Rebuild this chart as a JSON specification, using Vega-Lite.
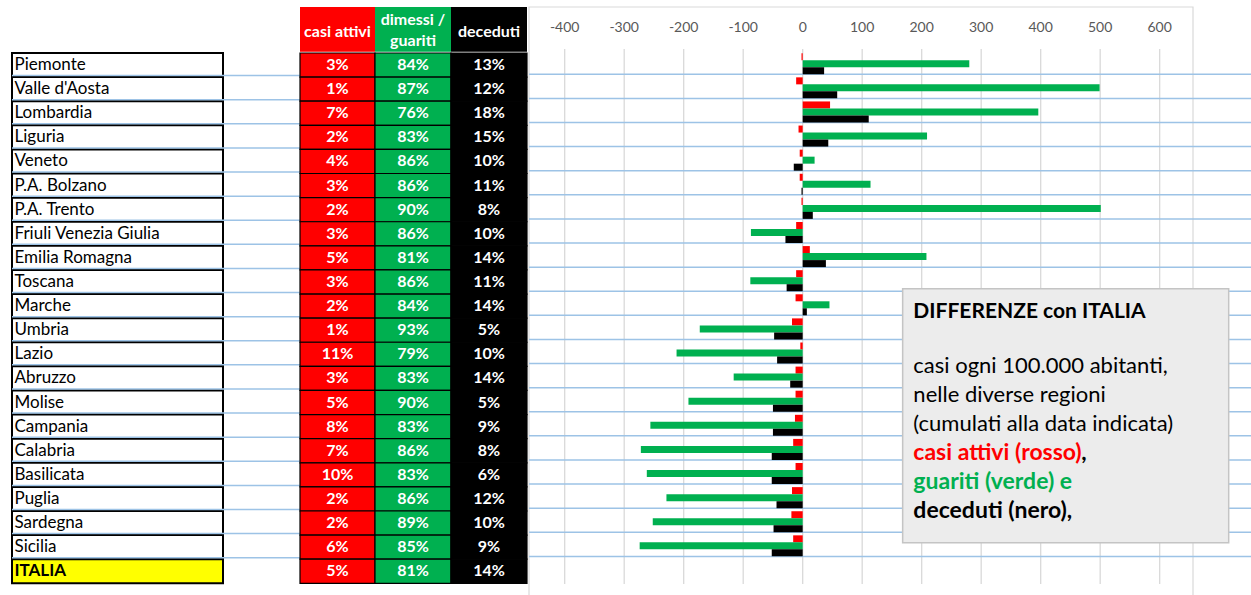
{
  "$schema": "https://vega.github.io/schema/vega-lite/v6.json",
  "padding": {"left": 11, "top": 6, "right": 0, "bottom": 0},
  "background": "white",
  "config": {"view": {"stroke": null}, "font": "Lato"},
  "datasets": {
    "regions": [
      {"region": "Piemonte", "p_att": 0.03, "p_gua": 0.84, "p_dec": 0.13, "d_attivi": -2, "d_guariti": 280, "d_deceduti": 36},
      {"region": "Valle d'Aosta", "p_att": 0.01, "p_gua": 0.87, "p_dec": 0.12, "d_attivi": -11, "d_guariti": 499, "d_deceduti": 58},
      {"region": "Lombardia", "p_att": 0.07, "p_gua": 0.76, "p_dec": 0.18, "d_attivi": 46, "d_guariti": 396, "d_deceduti": 111},
      {"region": "Liguria", "p_att": 0.02, "p_gua": 0.83, "p_dec": 0.15, "d_attivi": -7, "d_guariti": 209, "d_deceduti": 43},
      {"region": "Veneto", "p_att": 0.04, "p_gua": 0.86, "p_dec": 0.10, "d_attivi": -5, "d_guariti": 20, "d_deceduti": -15},
      {"region": "P.A. Bolzano", "p_att": 0.03, "p_gua": 0.86, "p_dec": 0.11, "d_attivi": -5, "d_guariti": 114, "d_deceduti": -2},
      {"region": "P.A. Trento", "p_att": 0.02, "p_gua": 0.90, "p_dec": 0.08, "d_attivi": -2, "d_guariti": 501, "d_deceduti": 17},
      {"region": "Friuli Venezia Giulia", "p_att": 0.03, "p_gua": 0.86, "p_dec": 0.10, "d_attivi": -11, "d_guariti": -87, "d_deceduti": -29},
      {"region": "Emilia Romagna", "p_att": 0.05, "p_gua": 0.81, "p_dec": 0.14, "d_attivi": 12, "d_guariti": 208, "d_deceduti": 39},
      {"region": "Toscana", "p_att": 0.03, "p_gua": 0.86, "p_dec": 0.11, "d_attivi": -11, "d_guariti": -88, "d_deceduti": -27},
      {"region": "Marche", "p_att": 0.02, "p_gua": 0.84, "p_dec": 0.14, "d_attivi": -12, "d_guariti": 45, "d_deceduti": 7},
      {"region": "Umbria", "p_att": 0.01, "p_gua": 0.93, "p_dec": 0.05, "d_attivi": -18, "d_guariti": -173, "d_deceduti": -48},
      {"region": "Lazio", "p_att": 0.11, "p_gua": 0.79, "p_dec": 0.10, "d_attivi": -4, "d_guariti": -212, "d_deceduti": -43},
      {"region": "Abruzzo", "p_att": 0.03, "p_gua": 0.83, "p_dec": 0.14, "d_attivi": -12, "d_guariti": -116, "d_deceduti": -21},
      {"region": "Molise", "p_att": 0.05, "p_gua": 0.90, "p_dec": 0.05, "d_attivi": -12, "d_guariti": -192, "d_deceduti": -50},
      {"region": "Campania", "p_att": 0.08, "p_gua": 0.83, "p_dec": 0.09, "d_attivi": -13, "d_guariti": -256, "d_deceduti": -50},
      {"region": "Calabria", "p_att": 0.07, "p_gua": 0.86, "p_dec": 0.08, "d_attivi": -16, "d_guariti": -272, "d_deceduti": -52},
      {"region": "Basilicata", "p_att": 0.10, "p_gua": 0.83, "p_dec": 0.06, "d_attivi": -12, "d_guariti": -262, "d_deceduti": -52},
      {"region": "Puglia", "p_att": 0.02, "p_gua": 0.86, "p_dec": 0.12, "d_attivi": -18, "d_guariti": -229, "d_deceduti": -44},
      {"region": "Sardegna", "p_att": 0.02, "p_gua": 0.89, "p_dec": 0.10, "d_attivi": -19, "d_guariti": -252, "d_deceduti": -49},
      {"region": "Sicilia", "p_att": 0.06, "p_gua": 0.85, "p_dec": 0.09, "d_attivi": -16, "d_guariti": -274, "d_deceduti": -52},
      {"region": "ITALIA", "p_att": 0.05, "p_gua": 0.81, "p_dec": 0.14, "d_attivi": 0, "d_guariti": 0, "d_deceduti": 0}
    ],
    "ticks": [{"t": -400}, {"t": -300}, {"t": -200}, {"t": -100}, {"t": 0}, {"t": 100}, {"t": 200}, {"t": 300}, {"t": 400}, {"t": 500}, {"t": 600}]
  },
  "spacing": 0,
  "bounds": "full",
  "hconcat": [
    {
      "spacing": 0,
      "bounds": "full",
      "vconcat": [
        {
          "spacing": 0,
          "bounds": "flush",
          "hconcat": [
            {"width": 288, "height": 44.7, "data": {"values": [{}]}, "mark": {"type": "text"}, "encoding": {"text": {"value": ""}}},
            {"width": 75, "height": 44.7, "view": {"fill": "#ff0000", "stroke": null}, "data": {"values": [{"h": "casi attivi"}]},
             "mark": {"type": "text", "color": "#ffffff", "fontSize": 16, "fontWeight": "bold", "dy": 3}, "encoding": {"text": {"field": "h", "type": "nominal"}}},
            {"width": 76, "height": 44.7, "view": {"fill": "#00b050", "stroke": null}, "data": {"values": [{"h": "dimessi /\nguariti"}]},
             "mark": {"type": "text", "color": "#ffffff", "fontSize": 16, "fontWeight": "bold", "dy": -9, "lineBreak": "\n", "lineHeight": 21}, "encoding": {"text": {"field": "h", "type": "nominal"}}},
            {"width": 76, "height": 44.7, "view": {"fill": "#000000", "stroke": null}, "data": {"values": [{"h": "deceduti"}]},
             "mark": {"type": "text", "color": "#ffffff", "fontSize": 16, "fontWeight": "bold", "dy": 3}, "encoding": {"text": {"field": "h", "type": "nominal"}}}
          ]
        },
        {
          "spacing": 0,
          "bounds": "flush",
          "data": {"name": "regions"},
          "hconcat": [
            {
              "width": 211, "height": 530.3,
              "layer": [
                {"mark": {"type": "rect", "stroke": "#000000", "strokeWidth": 2},
                 "encoding": {
                   "y": {"field": "region", "type": "nominal", "axis": null, "scale": {"domain": ["Piemonte","Valle d'Aosta","Lombardia","Liguria","Veneto","P.A. Bolzano","P.A. Trento","Friuli Venezia Giulia","Emilia Romagna","Toscana","Marche","Umbria","Lazio","Abruzzo","Molise","Campania","Calabria","Basilicata","Puglia","Sardegna","Sicilia","ITALIA"], "paddingInner": 0, "paddingOuter": 0}},
                   "fill": {"condition": {"test": "datum.region === 'ITALIA'", "value": "#ffff00"}, "value": "#ffffff"}}},
                {"transform": [{"filter": "datum.region !== 'ITALIA'"}],
                 "mark": {"type": "rule", "color": "#9dc3e6", "strokeWidth": 1.5, "yOffset": -1.5},
                 "encoding": {"y": {"field": "region", "type": "nominal", "bandPosition": 1, "axis": null}}},
                {"transform": [{"filter": "datum.region !== 'ITALIA'"}],
                 "mark": {"type": "text", "align": "left", "dx": -103, "fontSize": 17, "color": "#000000"},
                 "encoding": {"y": {"field": "region", "type": "nominal", "axis": null}, "text": {"field": "region", "type": "nominal"}}},
                {"transform": [{"filter": "datum.region === 'ITALIA'"}],
                 "mark": {"type": "text", "align": "left", "dx": -103, "fontSize": 17, "fontWeight": "bold", "color": "#000000"},
                 "encoding": {"y": {"field": "region", "type": "nominal", "axis": null}, "text": {"field": "region", "type": "nominal"}}}
              ]
            },
            {
              "width": 77, "height": 530.3,
              "transform": [{"filter": "datum.region !== 'ITALIA'"}],
              "mark": {"type": "rule", "color": "#9dc3e6", "strokeWidth": 1.5, "yOffset": -1.5},
              "encoding": {"y": {"field": "region", "type": "nominal", "bandPosition": 1, "axis": null, "scale": {"domain": ["Piemonte","Valle d'Aosta","Lombardia","Liguria","Veneto","P.A. Bolzano","P.A. Trento","Friuli Venezia Giulia","Emilia Romagna","Toscana","Marche","Umbria","Lazio","Abruzzo","Molise","Campania","Calabria","Basilicata","Puglia","Sardegna","Sicilia","ITALIA"], "paddingInner": 0, "paddingOuter": 0}}}
            },
            {
              "width": 75, "height": 530.3,
              "layer": [
                {"mark": {"type": "rect", "fill": "#ff0000", "stroke": "#000000", "strokeWidth": 1.2},
                 "encoding": {"y": {"field": "region", "type": "nominal", "axis": null, "scale": {"domain": ["Piemonte","Valle d'Aosta","Lombardia","Liguria","Veneto","P.A. Bolzano","P.A. Trento","Friuli Venezia Giulia","Emilia Romagna","Toscana","Marche","Umbria","Lazio","Abruzzo","Molise","Campania","Calabria","Basilicata","Puglia","Sardegna","Sicilia","ITALIA"], "paddingInner": 0, "paddingOuter": 0}}}},
                {"mark": {"type": "text", "color": "#ffffff", "fontSize": 16, "fontWeight": "bold"},
                 "encoding": {"y": {"field": "region", "type": "nominal", "axis": null}, "text": {"field": "p_att", "type": "quantitative", "format": ".0%"}}}
              ]
            },
            {
              "width": 76, "height": 530.3,
              "layer": [
                {"mark": {"type": "rect", "fill": "#00b050", "stroke": "#000000", "strokeWidth": 1.2},
                 "encoding": {"y": {"field": "region", "type": "nominal", "axis": null, "scale": {"domain": ["Piemonte","Valle d'Aosta","Lombardia","Liguria","Veneto","P.A. Bolzano","P.A. Trento","Friuli Venezia Giulia","Emilia Romagna","Toscana","Marche","Umbria","Lazio","Abruzzo","Molise","Campania","Calabria","Basilicata","Puglia","Sardegna","Sicilia","ITALIA"], "paddingInner": 0, "paddingOuter": 0}}}},
                {"mark": {"type": "text", "color": "#ffffff", "fontSize": 16, "fontWeight": "bold"},
                 "encoding": {"y": {"field": "region", "type": "nominal", "axis": null}, "text": {"field": "p_gua", "type": "quantitative", "format": ".0%"}}}
              ]
            },
            {
              "width": 76, "height": 530.3,
              "layer": [
                {"mark": {"type": "rect", "fill": "#000000", "stroke": "#000000", "strokeWidth": 1.2},
                 "encoding": {"y": {"field": "region", "type": "nominal", "axis": null, "scale": {"domain": ["Piemonte","Valle d'Aosta","Lombardia","Liguria","Veneto","P.A. Bolzano","P.A. Trento","Friuli Venezia Giulia","Emilia Romagna","Toscana","Marche","Umbria","Lazio","Abruzzo","Molise","Campania","Calabria","Basilicata","Puglia","Sardegna","Sicilia","ITALIA"], "paddingInner": 0, "paddingOuter": 0}}}},
                {"mark": {"type": "text", "color": "#ffffff", "fontSize": 16, "fontWeight": "bold"},
                 "encoding": {"y": {"field": "region", "type": "nominal", "axis": null}, "text": {"field": "p_dec", "type": "quantitative", "format": ".0%"}}}
              ]
            }
          ]
        }
      ]
    },
    {
      "width": 724,
      "height": 589,
      "resolve": {"scale": {"y": "independent"}},
      "layer": [
        {"data": {"values": [{}]},
         "mark": {"type": "rect", "filled": false, "color": "#d9d9d9", "strokeWidth": 1.2},
         "encoding": {
           "x": {"datum": -460, "type": "quantitative", "axis": null, "scale": {"domain": [-460, 656], "range": [0, 664], "nice": false, "zero": false}},
           "x2": {"datum": 656}}},
        {"data": {"name": "ticks"},
         "mark": {"type": "rule", "color": "#d9d9d9", "strokeWidth": 1.3},
         "encoding": {
           "x": {"field": "t", "type": "quantitative", "axis": null, "scale": {"domain": [-460, 656], "range": [0, 664], "nice": false, "zero": false}},
           "y": {"datum": 0, "type": "quantitative", "axis": null, "scale": {"domain": [0, 1], "range": [577, 42]}},
           "y2": {"datum": 1}}},
        {"data": {"name": "ticks"},
         "mark": {"type": "text", "color": "#595959", "fontSize": 14, "baseline": "middle", "dy": -21},
         "encoding": {
           "x": {"field": "t", "type": "quantitative", "axis": null, "scale": {"domain": [-460, 656], "range": [0, 664], "nice": false, "zero": false}},
           "y": {"datum": 1, "type": "quantitative", "axis": null, "scale": {"domain": [0, 1], "range": [577, 42]}},
           "text": {"field": "t", "type": "nominal"}}},
        {
          "data": {"name": "regions"},
          "layer": [
            {"transform": [{"filter": "datum.region !== 'ITALIA'"}],
             "mark": {"type": "rule", "color": "#9dc3e6", "strokeWidth": 1.5, "yOffset": -1.5},
             "encoding": {"y": {"field": "region", "type": "nominal", "bandPosition": 1, "axis": null, "scale": {"domain": ["Piemonte","Valle d'Aosta","Lombardia","Liguria","Veneto","P.A. Bolzano","P.A. Trento","Friuli Venezia Giulia","Emilia Romagna","Toscana","Marche","Umbria","Lazio","Abruzzo","Molise","Campania","Calabria","Basilicata","Puglia","Sardegna","Sicilia","ITALIA"], "range": [44.7, 575], "paddingInner": 0, "paddingOuter": 0}}}},
            {"transform": [{"fold": ["d_attivi", "d_guariti", "d_deceduti"], "as": ["serie", "val"]}],
             "mark": {"type": "bar"},
             "encoding": {
               "y": {"field": "region", "type": "nominal", "axis": null},
               "yOffset": {"field": "serie", "type": "nominal", "scale": {"domain": ["d_attivi", "d_guariti", "d_deceduti"], "paddingInner": 0, "paddingOuter": 0.22}},
               "x": {"field": "val", "type": "quantitative", "axis": null, "scale": {"domain": [-460, 656], "range": [0, 664], "nice": false, "zero": false}},
               "color": {"field": "serie", "type": "nominal", "legend": null, "scale": {"domain": ["d_attivi", "d_guariti", "d_deceduti"], "range": ["#ff0000", "#00b050", "#000000"]}}}},
            {"data": {"values": [{}]},
             "mark": {"type": "rect", "fill": "#ececec", "stroke": "#c4c4c4", "strokeWidth": 1.5, "yOffset": -16, "y2Offset": -3},
             "encoding": {
               "x": {"datum": 168, "type": "quantitative", "axis": null},
               "x2": {"datum": 716},
               "y": {"datum": "Marche", "type": "nominal", "axis": null},
               "y2": {"datum": "Sicilia"}}},
            {"data": {"values": [{}]},
             "mark": {"type": "text", "align": "left", "fontSize": 21, "fontWeight": "bold", "color": "#000000", "dy": 7},
             "encoding": {"x": {"datum": 186, "type": "quantitative", "axis": null}, "y": {"datum": "Marche", "type": "nominal", "axis": null}, "text": {"value": "DIFFERENZE con ITALIA"}}},
            {"data": {"values": [{}]},
             "mark": {"type": "text", "align": "left", "fontSize": 22, "color": "#000000", "dy": 61},
             "encoding": {"x": {"datum": 186, "type": "quantitative", "axis": null}, "y": {"datum": "Marche", "type": "nominal", "axis": null}, "text": {"value": "casi ogni 100.000 abitanti,"}}},
            {"data": {"values": [{}]},
             "mark": {"type": "text", "align": "left", "fontSize": 22, "color": "#000000", "dy": 90},
             "encoding": {"x": {"datum": 186, "type": "quantitative", "axis": null}, "y": {"datum": "Marche", "type": "nominal", "axis": null}, "text": {"value": "nelle diverse regioni"}}},
            {"data": {"values": [{}]},
             "mark": {"type": "text", "align": "left", "fontSize": 22, "color": "#000000", "dy": 119},
             "encoding": {"x": {"datum": 186, "type": "quantitative", "axis": null}, "y": {"datum": "Marche", "type": "nominal", "axis": null}, "text": {"value": "(cumulati alla data indicata)"}}},
            {"data": {"values": [{}]},
             "mark": {"type": "text", "align": "left", "fontSize": 23, "fontWeight": "bold", "color": "#ff0000", "dy": 148},
             "encoding": {"x": {"datum": 186, "type": "quantitative", "axis": null}, "y": {"datum": "Marche", "type": "nominal", "axis": null}, "text": {"value": "casi attivi (rosso)"}}},
            {"data": {"values": [{}]},
             "mark": {"type": "text", "align": "left", "fontSize": 23, "fontWeight": "bold", "color": "#000000", "dy": 148, "dx": 168},
             "encoding": {"x": {"datum": 186, "type": "quantitative", "axis": null}, "y": {"datum": "Marche", "type": "nominal", "axis": null}, "text": {"value": ","}}},
            {"data": {"values": [{}]},
             "mark": {"type": "text", "align": "left", "fontSize": 23, "fontWeight": "bold", "color": "#00b050", "dy": 177},
             "encoding": {"x": {"datum": 186, "type": "quantitative", "axis": null}, "y": {"datum": "Marche", "type": "nominal", "axis": null}, "text": {"value": "guariti (verde) e"}}},
            {"data": {"values": [{}]},
             "mark": {"type": "text", "align": "left", "fontSize": 23, "fontWeight": "bold", "color": "#000000", "dy": 206},
             "encoding": {"x": {"datum": 186, "type": "quantitative", "axis": null}, "y": {"datum": "Marche", "type": "nominal", "axis": null}, "text": {"value": "deceduti (nero),"}}}
          ]
        }
      ]
    }
  ]
}
